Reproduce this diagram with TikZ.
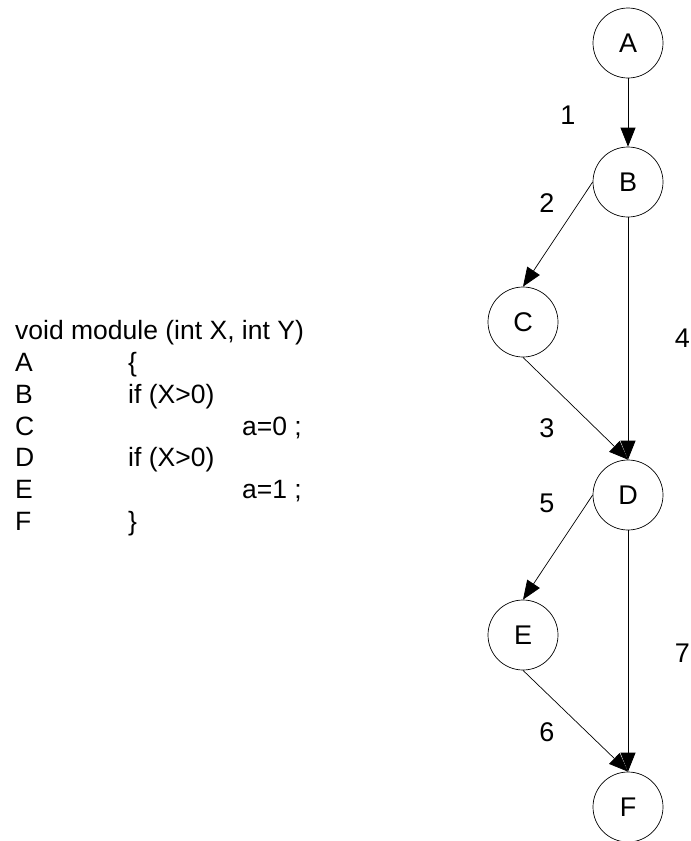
\documentclass[tikz,border=0pt]{standalone}
\usepackage{fontspec}
\setmainfont{Liberation Sans}
\usetikzlibrary{arrows.meta}
\begin{document}
\begin{tikzpicture}[x=1pt,y=-1pt,
  state/.style={draw=black,line width=0.7pt,circle,minimum size=70pt,inner sep=0pt,font=\fontsize{27}{31}\selectfont},
  lbl/.style={inner sep=0pt,font=\fontsize{27}{31}\selectfont},
  code/.style={inner sep=0pt,anchor=base west,font=\fontsize{26.5}{31}\selectfont},
  flow/.style={draw=black,line width=0.7pt,-{Triangle[length=19pt,width=15pt]}}]
\useasboundingbox (0,0) rectangle (691,841);
% graph nodes
\node[state] (A) at (628,43) {A};
\node[state] (B) at (628,182) {B};
\node[state] (C) at (523,322) {C};
\node[state] (D) at (628,495) {D};
\node[state] (E) at (523,635) {E};
\node[state] (F) at (628,807) {F};
% edges
\draw[flow] (A.south) -- (B.north);
\draw[flow] (B.west) -- (C.north);
\draw[flow] (C.south) -- (D.north);
\draw[flow] (B.south) -- (D.north);
\draw[flow] (D.west) -- (E.north);
\draw[flow] (E.south) -- (F.north);
\draw[flow] (D.south) -- (F.north);
% edge labels
\node[lbl] (l1) at (568,115) {1};
\node[lbl] (l2) at (547,203) {2};
\node[lbl] (l3) at (547,428) {3};
\node[lbl] (l4) at (682.5,338) {4};
\node[lbl] (l5) at (547,503) {5};
\node[lbl] (l6) at (547,732) {6};
\node[lbl] (l7) at (682.5,653) {7};
% code
\node[code] (hdr) at (15,339) {void module (int X, int Y)};
\node[code] (cA) at (15,371) {A};
\node[code] (sA) at (128,371) {\{};
\node[code] (cB) at (15,403) {B};
\node[code] (sB) at (128,403) {if (X>0)};
\node[code] (cC) at (15,435) {C};
\node[code] (sC) at (242,435) {a=0 ;};
\node[code] (cD) at (15,466) {D};
\node[code] (sD) at (128,466) {if (X>0)};
\node[code] (cE) at (15,498) {E};
\node[code] (sE) at (242,498) {a=1 ;};
\node[code] (cF) at (15,530) {F};
\node[code] (sF) at (128,530) {\}};
\end{tikzpicture}
\end{document}
